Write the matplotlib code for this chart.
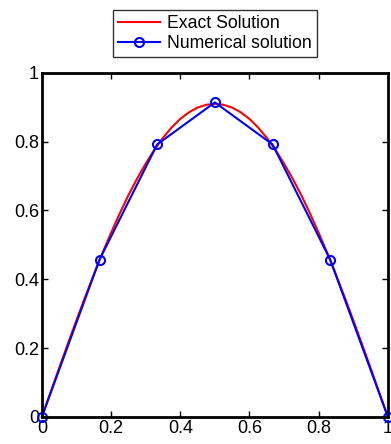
import matplotlib
matplotlib.use("Agg")
import matplotlib.pyplot as plt

plt.rcParams['font.family'] = ['Liberation Sans', 'DejaVu Sans']

# Exact solution
x_exact = [0.000, 0.025, 0.050, 0.075, 0.100, 0.125, 0.150, 0.175, 0.200, 0.225,
           0.250, 0.275, 0.300, 0.325, 0.350, 0.375, 0.400, 0.425, 0.450, 0.475,
           0.500, 0.525, 0.550, 0.575, 0.600, 0.625, 0.650, 0.675, 0.700, 0.725,
           0.750, 0.775, 0.800, 0.825, 0.850, 0.875, 0.900, 0.925, 0.950, 0.975, 1.000]
u_exact = [0.000, 0.071, 0.142, 0.212, 0.281, 0.348, 0.413, 0.476, 0.535, 0.591,
           0.644, 0.692, 0.736, 0.776, 0.811, 0.841, 0.866, 0.885, 0.899, 0.907,
           0.910, 0.907, 0.899, 0.885, 0.866, 0.841, 0.811, 0.776, 0.736, 0.692,
           0.644, 0.591, 0.535, 0.476, 0.413, 0.348, 0.281, 0.212, 0.142, 0.071, 0.000]

# Numerical solution nodes
x_num = [0.0, 1/6, 2/6, 3/6, 4/6, 5/6, 1.0]
u_num = [0.000, 0.457, 0.792, 0.914, 0.792, 0.457, 0.000]

xticks = [0, 0.2, 0.4, 0.6, 0.8, 1]
xticklabels = ['0', '0.2', '0.4', '0.6', '0.8', '1']
yticks = [0, 0.2, 0.4, 0.6, 0.8, 1]
yticklabels = ['0', '0.2', '0.4', '0.6', '0.8', '1']

fig = plt.figure(figsize=(3.91, 4.44), dpi=100)
ax = fig.add_axes([0.107, 0.061, 0.885, 0.775])

ax.plot(x_exact, u_exact, color='#ff0000', lw=1.5, label='Exact Solution')
ax.plot(x_num, u_num, color='#0000ff', lw=1.5, marker='o', markersize=6.5,
        markerfacecolor='none', markeredgecolor='#0000ff', markeredgewidth=1.5,
        label='Numerical solution', clip_on=False)

ax.set_xlim(0, 1)
ax.set_ylim(0, 1)
ax.set_xticks(xticks)
ax.set_xticklabels(xticklabels)
ax.set_yticks(yticks)
ax.set_yticklabels(yticklabels)
ax.tick_params(direction='in', length=4, width=1, top=True, right=True,
               labelsize=13, pad=2)
for s in ax.spines.values():
    s.set_linewidth(2)

leg = fig.legend(loc='center', bbox_to_anchor=(0.55, 0.9245), fontsize=12.7,
                 frameon=True, fancybox=False, edgecolor='black',
                 handlelength=2.4, borderpad=0.3, labelspacing=0.15,
                 handletextpad=0.4, borderaxespad=0)
leg.get_frame().set_linewidth(1)

fig.savefig('out.png', dpi=100)
